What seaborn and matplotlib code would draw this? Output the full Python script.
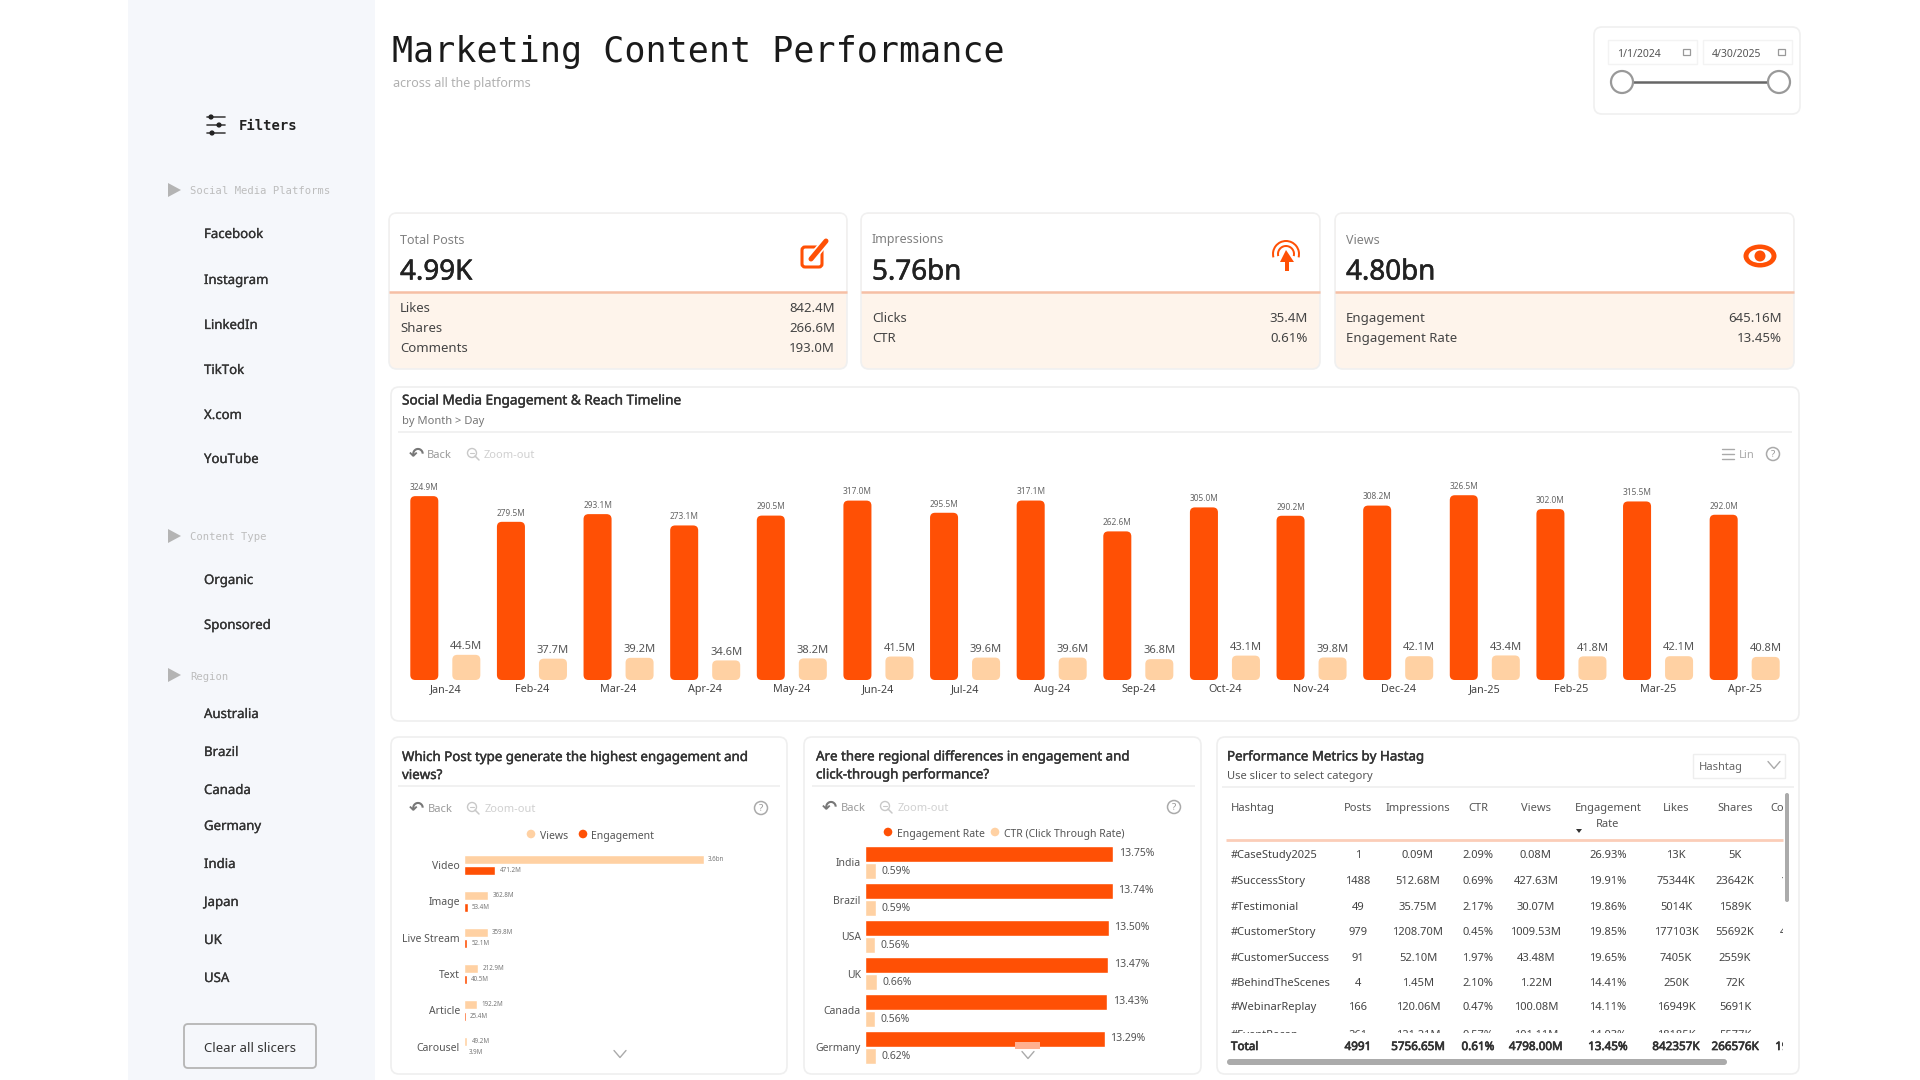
"""
Marketing Content Performance dashboard
Usage: python3 plot.py
"""

import pandas as pd
import matplotlib
matplotlib.use("Agg")
import matplotlib.pyplot as plt
import matplotlib.patheffects as pe
from matplotlib.patches import FancyBboxPatch, Rectangle, Circle, Ellipse, Polygon, Wedge
import seaborn as sns

ORANGE = "#FF5005"
PEACH = "#FFD1A3"
BODY = "Noto Sans"
MONO = "DejaVu Sans Mono"

# Timeline chart
months = ["Jan-24", "Feb-24", "Mar-24", "Apr-24", "May-24", "Jun-24", "Jul-24", "Aug-24",
          "Sep-24", "Oct-24", "Nov-24", "Dec-24", "Jan-25", "Feb-25", "Mar-25", "Apr-25"]
reach = [324.9, 279.5, 293.1, 273.1, 290.5, 317.0, 295.5, 317.1,
         262.6, 305.0, 290.2, 308.2, 326.5, 302.0, 315.5, 292.0]
engaged = [44.5, 37.7, 39.2, 34.6, 38.2, 41.5, 39.6, 39.6,
           36.8, 43.1, 39.8, 42.1, 43.4, 41.8, 42.1, 40.8]

# Post type chart
post_types = ["Video", "Image", "Live Stream", "Text", "Article", "Carousel"]
post_views = [3600.0, 362.8, 359.8, 212.9, 192.2, 49.2]
post_views_labels = ["3.6bn", "362.8M", "359.8M", "212.9M", "192.2M", "49.2M"]
post_engagement = [471.2, 53.4, 52.1, 40.5, 25.4, 3.9]

# Region chart
regions = ["India", "Brazil", "USA", "UK", "Canada", "Germany"]
engagement_rate = [13.75, 13.74, 13.50, 13.47, 13.43, 13.29]
click_rate = [0.59, 0.59, 0.56, 0.66, 0.56, 0.62]

# Hashtag table
table_headers = ["Hashtag", "Posts", "Impressions", "CTR", "Views", "Engagement", "Likes", "Shares", "Comments"]
table_rows = [
    ["#CaseStudy2025", "1", "0.09M", "2.09%", "0.08M", "26.93%", "13K", "5K", "2K"],
    ["#SuccessStory", "1488", "512.68M", "0.69%", "427.63M", "19.91%", "75344K", "23642K", "17900K"],
    ["#Testimonial", "49", "35.75M", "2.17%", "30.07M", "19.86%", "5014K", "1589K", "1105K"],
    ["#CustomerStory", "979", "1208.70M", "0.45%", "1009.53M", "19.85%", "177103K", "55692K", "41300K"],
    ["#CustomerSuccess", "91", "52.10M", "1.97%", "43.48M", "19.65%", "7405K", "2559K", "1600K"],
    ["#BehindTheScenes", "4", "1.45M", "2.10%", "1.22M", "14.41%", "250K", "72K", "60K"],
    ["#WebinarReplay", "166", "120.06M", "0.47%", "100.08M", "14.11%", "16949K", "5691K", "3897K"],
    ["#EventRecap", "261", "121.21M", "0.57%", "101.11M", "14.03%", "18185K", "5577K", "4100K"],
]
table_total = ["Total", "4991", "5756.65M", "0.61%", "4798.00M", "13.45%", "842357K", "266576K", "193000K"]

# Sidebar
platforms = ["Facebook", "Instagram", "LinkedIn", "TikTok", "X.com", "YouTube"]
content_types = ["Organic", "Sponsored"]
region_filters = ["Australia", "Brazil", "Canada", "Germany", "India", "Japan", "UK", "USA"]

sns.set_theme(style="white")
plt.rcParams["font.family"] = [BODY, "DejaVu Sans"]

fig = plt.figure(figsize=(19.2, 10.8), dpi=100, facecolor="white")

# Overlay in pixel coordinates for the dashboard chrome
bg = fig.add_axes([0, 0, 1, 1], zorder=1)
bg.set_xlim(0, 1920)
bg.set_ylim(1080, 0)
bg.axis("off")


def px_axes(left, top, right, bottom):
    ax = fig.add_axes([left / 1920, 1 - bottom / 1080, (right - left) / 1920, (bottom - top) / 1080], zorder=2)
    ax.patch.set_alpha(0)
    return ax


def label(x, y, text, size=10, color="#333333", ha="left", weight="normal", family=None, heavy=0):
    # heavy thickens the stroke a bit, Noto Sans here only draws regular
    t = bg.text(x, y + 1.5, text, fontsize=size, color=color, ha=ha, va="center",
                fontweight=weight, family=family or [BODY, "DejaVu Sans"], zorder=5)
    if heavy:
        t.set_path_effects([pe.withStroke(linewidth=heavy, foreground=color)])
    return t


def card(x0, y0, x1, y1, face="white", edge="#EFEFEF", radius=8, lw=1.2, z=1):
    box = FancyBboxPatch((x0, y0), x1 - x0, y1 - y0, boxstyle=f"round,pad=0,rounding_size={radius}",
                         facecolor=face, edgecolor=edge, linewidth=lw, zorder=z)
    bg.add_patch(box)
    return box


def hline(x0, x1, y, color="#EFEFEF", lw=1.2, z=3):
    bg.plot([x0, x1], [y, y], color=color, lw=lw, solid_capstyle="butt", zorder=z)


def help_icon(x, y):
    bg.add_patch(Circle((x, y), 6.5, facecolor="none", edgecolor="#AAAAAA", lw=1.1, zorder=4))
    label(x, y - 1, "?", size=7, color="#999999", ha="center")


def back_zoom(x_arrow, x_back, x_glass, x_zoom, y):
    label(x_arrow, y - 1, "\u21b6", size=13, color="#777777", ha="center", family="DejaVu Sans", weight="bold")
    label(x_back, y, "Back", size=8, color="#9A9A9A")
    bg.add_patch(Circle((x_glass, y - 1), 4.5, facecolor="none", edgecolor="#C8C8C8", lw=1, zorder=4))
    bg.plot([x_glass + 3, x_glass + 7], [y + 2, y + 6], color="#C8C8C8", lw=1.1, zorder=4)
    bg.plot([x_glass - 2, x_glass + 2], [y - 1, y - 1], color="#C8C8C8", lw=0.8, zorder=4)
    label(x_zoom, y, "Zoom-out", size=8, color="#D0D0D0")


def chevron(x, y, w=6, h=3.5, color="#AAAAAA"):
    bg.plot([x - w, x, x + w], [y - h, y + h, y - h], color=color, lw=1, zorder=6)


def legend_dot(x_dot, x_text, y, color, text):
    bg.add_patch(Circle((x_dot, y - 1), 4.3, facecolor=color, edgecolor="none", zorder=4))
    label(x_text, y, text, size=7.5, color="#555555")


def round_bars(ax, radius_px, x_px_per_unit, y_px_per_unit):
    # Power BI style rounded corners on the bars seaborn drew
    for container in ax.containers:
        for bar in container:
            x, y = bar.get_xy()
            w, h = bar.get_width(), bar.get_height()
            color = bar.get_facecolor()
            bar.set_visible(False)
            ax.add_patch(FancyBboxPatch((x, y), w, h,
                                        boxstyle=f"round,pad=0,rounding_size={radius_px / x_px_per_unit}",
                                        mutation_aspect=x_px_per_unit / y_px_per_unit,
                                        facecolor=color, edgecolor="none"))


# --- Sidebar ---
bg.add_patch(Rectangle((128, 0), 247, 1080, facecolor="#F5F7FB", edgecolor="none", zorder=0.5))

for dy, dx in [(-8, 4), (0, 12), (8, 5)]:
    bg.plot([207, 225], [125 + dy, 125 + dy], color="#444444", lw=1.2, zorder=3)
    bg.add_patch(Circle((207 + dx, 125 + dy), 2.6, facecolor="#222222", edgecolor="none", zorder=4))
label(239, 125, "Filters", size=10, color="#222222", weight="bold", family=MONO)


def section(y, text):
    bg.add_patch(Polygon([[168, y - 7], [168, y + 7], [181, y]], closed=True, facecolor="#B4B4B4",
                         edgecolor="none", zorder=3))
    label(190, y, text, size=7.6, color="#BDBDBD", family=MONO)


section(190, "Social Media Platforms")
for y, name in zip([233, 279, 324, 369, 414, 458], platforms):
    label(204, y, name, size=9.5, color="#333333", heavy=0.2)
section(536, "Content Type")
for y, name in zip([579, 624], content_types):
    label(204, y, name, size=9.5, color="#333333", heavy=0.2)
section(675, "Region")
for y, name in zip([713, 751, 789, 825, 863, 901, 939, 977], region_filters):
    label(204, y, name, size=9.5, color="#333333", heavy=0.2)

card(184, 1024, 316, 1068, face="#F5F7FB", edge="#B5B5B5", radius=4, lw=1.3)
label(250, 1047, "Clear all slicers", size=9.5, color="#333333", ha="center")

# --- Header ---
label(392, 50.5, "Marketing Content Performance", size=25.2, color="#1A1A1A", family=MONO)
label(393, 82, "across all the platforms", size=9, color="#B0B0B0")

card(1594, 27, 1800, 114, edge="#F0F0F0")
for x0, text in [(1608, "1/1/2024"), (1703, "4/30/2025")]:
    bg.add_patch(Rectangle((x0, 40), 89, 24, facecolor="white", edgecolor="#F3F3F3", lw=1, zorder=2))
    label(x0 + 9, 53, text, size=7.5, color="#555555")
    bg.add_patch(Rectangle((x0 + 75, 49), 7, 6, facecolor="none", edgecolor="#999999", lw=0.9, zorder=3))
bg.plot([1622, 1779], [82, 82], color="#666666", lw=1.8, zorder=3)
for x in [1622, 1779]:
    bg.add_patch(Circle((x, 82), 11, facecolor="white", edgecolor="#999999", lw=1.6, zorder=4))

# --- KPI cards ---
kpis = [
    (389, 847, "Total Posts", "4.99K", [("Likes", "842.4M"), ("Shares", "266.6M"), ("Comments", "193.0M")]),
    (861, 1320, "Impressions", "5.76bn", [("Clicks", "35.4M"), ("CTR", "0.61%")]),
    (1335, 1794, "Views", "4.80bn", [("Engagement", "645.16M"), ("Engagement Rate", "13.45%")]),
]
for x0, x1, title, value, rows in kpis:
    card(x0, 213, x1, 369, face="#FEF4EB", edge="#F0F0F0")
    bg.add_patch(FancyBboxPatch((x0 + 1, 214), x1 - x0 - 2, 77, boxstyle="round,pad=0,rounding_size=6",
                                facecolor="white", edgecolor="none", zorder=1.5))
    bg.add_patch(Rectangle((x0 + 1, 270), x1 - x0 - 2, 22, facecolor="white", edgecolor="none", zorder=1.5))
    hline(x0, x1, 292, color="#F6BFA5", lw=1.8)
    label(x0 + 11, 238.5, title, size=9, color="#808080")
    label(x0 + 11, 271, value, size=20, color="#222222", heavy=0.4)
    row_ys = [307, 327, 347] if len(rows) == 3 else [317, 337]
    for y, (name, val) in zip(row_ys, rows):
        label(x0 + 11, y, name, size=9.5, color="#444444")
        label(x1 - 12, y, val, size=9.5, color="#444444", ha="right")

# pencil icon
bg.add_patch(FancyBboxPatch((802, 247), 20, 20, boxstyle="round,pad=0,rounding_size=3", facecolor="none",
                            edgecolor=ORANGE, lw=2.2, zorder=4))
bg.plot([811, 826], [259, 241], color="white", lw=6, zorder=4.5)
bg.plot([811, 826], [259, 241], color=ORANGE, lw=3.6, zorder=5)
# click target icon
for r, lw in [(14, 2), (9, 2)]:
    bg.add_patch(Wedge((1286, 254), r, 165, 375, width=lw, facecolor=ORANGE, edgecolor="none", zorder=4))
bg.add_patch(Polygon([[1286, 250], [1294, 262], [1289, 262], [1289, 271], [1285, 271], [1285, 262], [1280, 262]],
                     closed=True, facecolor=ORANGE, edgecolor="none", zorder=5))
# eye icon
bg.add_patch(Ellipse((1760, 256), 33, 23, facecolor=ORANGE, edgecolor="none", zorder=4))
bg.add_patch(Ellipse((1760, 256), 23, 14, facecolor="white", edgecolor="none", zorder=4.5))
bg.add_patch(Circle((1760, 256), 5.5, facecolor=ORANGE, edgecolor="none", zorder=5))

# --- Timeline card ---
card(391, 387, 1799, 721)
label(402, 399.5, "Social Media Engagement & Reach Timeline", size=9.8, color="#333333", heavy=0.3)
label(402, 420, "by Month > Day", size=8, color="#777777")
hline(398, 1792, 432)
back_zoom(416, 427, 472, 484, 454)
for dy in (-5, 0, 5):
    bg.plot([1722, 1734], [454 + dy, 454 + dy], color="#AAAAAA", lw=1, zorder=4)
label(1739, 454, "Lin", size=8, color="#AAAAAA")
help_icon(1773, 454)

timeline = pd.DataFrame({"month": months, "Reach": reach, "Engagement": engaged}).melt(
    id_vars="month", var_name="series", value_name="value")
ax_time = px_axes(402, 480, 1788, 680)
sns.barplot(data=timeline, x="month", y="value", hue="series", ax=ax_time, legend=False,
            palette={"Reach": ORANGE, "Engagement": PEACH}, width=0.97, gap=0.333, saturation=1)
ax_time.set_xlim(-0.5, 15.5)
ax_time.set_ylim(0, 353.4)
ax_time.set_xlabel("")
ax_time.set_ylabel("")
ax_time.set_yticks([])
ax_time.tick_params(axis="x", length=0, pad=3, labelsize=7.8, labelcolor="#444444")
sns.despine(ax=ax_time, left=True, bottom=True)
ax_time.bar_label(ax_time.containers[0], labels=[f"{v:.1f}M" for v in reach], fontsize=6, color="#666666", padding=3)
ax_time.bar_label(ax_time.containers[1], labels=[f"{v:.1f}M" for v in engaged], fontsize=8, color="#555555", padding=2)
round_bars(ax_time, 5, 86.6, 0.566)

# --- Post type card ---
card(391, 737, 787, 1074)
label(402, 756, "Which Post type generate the highest engagement and", size=9.6, color="#333333", heavy=0.3)
label(402, 774, "views?", size=9.6, color="#333333", heavy=0.3)
hline(398, 780, 786)
back_zoom(416, 428, 472, 485, 808)
help_icon(761, 808)
legend_dot(531, 540, 835, PEACH, "Views")
legend_dot(583, 591, 835, ORANGE, "Engagement")

posts = pd.DataFrame({"type": post_types, "Views": post_views, "Engagement": post_engagement}).melt(
    id_vars="type", var_name="series", value_name="value")
ax_posts = px_axes(464, 847, 780, 1065)
sns.barplot(data=posts, y="type", x="value", hue="series", ax=ax_posts, legend=False,
            palette={"Views": PEACH, "Engagement": ORANGE}, width=0.62, gap=0.2, saturation=1)
ax_posts.set_xlim(0, 4740)
ax_posts.set_xlabel("")
ax_posts.set_ylabel("")
ax_posts.set_xticks([])
ax_posts.tick_params(axis="y", length=0, pad=3, labelsize=7.5, labelcolor="#555555")
sns.despine(ax=ax_posts, left=True, bottom=True)
ax_posts.bar_label(ax_posts.containers[0], labels=post_views_labels, fontsize=4.5, color="#777777", padding=3)
ax_posts.bar_label(ax_posts.containers[1], labels=[f"{v:.1f}M" for v in post_engagement], fontsize=4.5,
                   color="#777777", padding=3)
chevron(620, 1054)

# --- Region card ---
card(804, 737, 1201, 1074)
label(816, 755.5, "Are there regional differences in engagement and", size=9.6, color="#333333", heavy=0.3)
label(816, 773.5, "click-through performance?", size=9.6, color="#333333", heavy=0.3)
hline(812, 1195, 786)
back_zoom(829, 841, 885, 898, 807)
help_icon(1174, 807)
legend_dot(888, 897, 833, ORANGE, "Engagement Rate")
legend_dot(995, 1004, 833, PEACH, "CTR (Click Through Rate)")

region_df = pd.DataFrame({"region": regions, "Engagement Rate": engagement_rate, "CTR": click_rate}).melt(
    id_vars="region", var_name="series", value_name="value")
ax_region = px_axes(865, 844, 1194, 1066)
sns.barplot(data=region_df, y="region", x="value", hue="series", ax=ax_region, legend=False,
            palette={"Engagement Rate": ORANGE, "CTR": PEACH}, width=0.92, gap=0.04, saturation=1)
ax_region.set_xlim(0, 18.24)
ax_region.set_xlabel("")
ax_region.set_ylabel("")
ax_region.set_xticks([])
ax_region.tick_params(axis="y", length=0, pad=3, labelsize=7.5, labelcolor="#555555")
sns.despine(ax=ax_region, left=True, bottom=True)
ax_region.bar_label(ax_region.containers[0], labels=[f"{v:.2f}%" for v in engagement_rate], fontsize=7.5,
                    color="#555555", padding=4)
ax_region.bar_label(ax_region.containers[1], labels=[f"{v:.2f}%" for v in click_rate], fontsize=7.5,
                    color="#555555", padding=4)
# scroll marker sits on top of the chart axes
fig.add_artist(Rectangle((1015 / 1920, 1 - 1049 / 1080), 25 / 1920, 7 / 1080, facecolor="#FFB090",
                         edgecolor="none", transform=fig.transFigure, zorder=8))
chevron(1028, 1055)

# --- Hashtag table card ---
card(1217, 737, 1799, 1074)
label(1227, 755.5, "Performance Metrics by Hastag", size=9.6, color="#333333", heavy=0.3)
label(1227, 775, "Use slicer to select category", size=8, color="#555555")
hline(1222, 1794, 787)
bg.add_patch(Rectangle((1693, 754), 92, 24, facecolor="white", edgecolor="#EEEEEE", lw=1, zorder=3))
label(1699, 766, "Hashtag", size=8, color="#666666")
chevron(1774, 765)

col_x = [1231, 1358, 1418, 1478, 1536, 1608, 1676, 1735, 1799]
table_clip = Rectangle((1226, 795), 557, 238, transform=bg.transData)
total_clip = Rectangle((1226, 1035), 557, 22, transform=bg.transData)


def table_row(y, cells, color="#444444", clip=table_clip, size=8, heavy=0):
    for i, (x, text) in enumerate(zip(col_x, cells)):
        t = label(x, y, text, size=size, color=color, ha="left" if i == 0 else "center", heavy=heavy)
        t.set_clip_path(clip)
        t.set_clip_on(True)


table_row(807, table_headers, color="#555555")
label(1608, 823, "Rate", size=8, color="#555555", ha="center")
bg.add_patch(Polygon([[1576, 829], [1582, 829], [1579, 833]], closed=True, facecolor="#333333", edgecolor="none", zorder=4))
hline(1226, 1783, 840, color="#FBCDB8", lw=2)
for y, row in zip([854, 880, 906, 931, 957, 982, 1006, 1034], table_rows):
    table_row(y, row)
table_row(1046, table_total, color="#333333", clip=total_clip, size=8.4, heavy=0.5)
bg.add_patch(FancyBboxPatch((1227, 1059), 500, 6, boxstyle="round,pad=0,rounding_size=3", facecolor="#ABABAB",
                            edgecolor="none", zorder=4))
bg.add_patch(FancyBboxPatch((1785, 793), 4, 109, boxstyle="round,pad=0,rounding_size=2", facecolor="#ABABAB",
                            edgecolor="none", zorder=4))

fig.savefig("out.png", dpi=100)
